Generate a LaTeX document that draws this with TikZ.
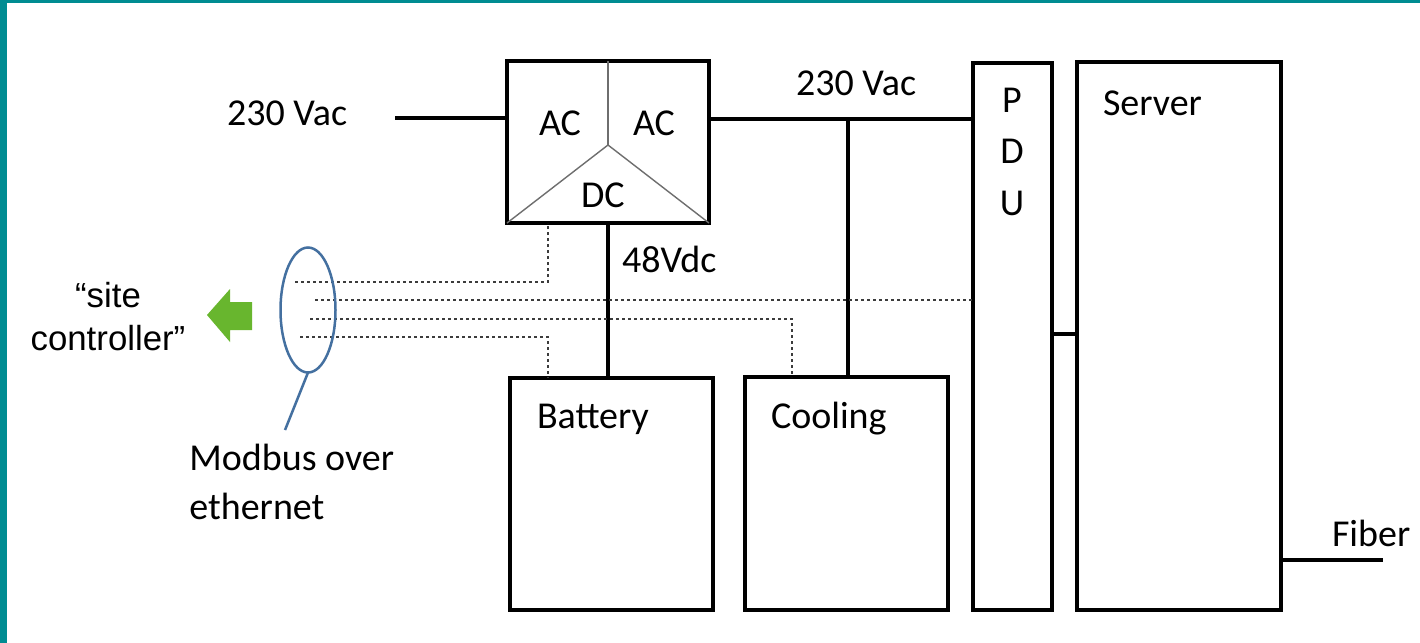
\documentclass[tikz,border=0pt]{standalone}
\usepackage{fontspec}
\setmainfont{Carlito}
\newfontfamily\arialfont{Liberation Sans}
\usetikzlibrary{shapes.geometric}
\definecolor{teal1}{RGB}{0,140,146}
\definecolor{busblue}{RGB}{68,112,160}
\definecolor{arrowgreen}{RGB}{104,182,46}
\definecolor{dashgray}{RGB}{60,60,60}
\definecolor{thingray}{RGB}{110,110,110}
\tikzset{
  box/.style={draw=black, line width=1.8pt, anchor=north west, outer sep=0pt, inner sep=0pt},
  power/.style={draw=black, line width=2pt},
  signal/.style={draw=dashgray, line width=0.75pt, dash pattern=on 1.7pt off 1.3pt},
  split/.style={draw=thingray, line width=0.7pt},
  lbl/.style={inner sep=0pt, outer sep=0pt, font=\fontsize{19}{22}\selectfont, anchor=base west},
}
\begin{document}
\begin{tikzpicture}[x=0.5pt, y=-0.5pt]
\useasboundingbox (0,0) rectangle (1420,643);
\fill[white] (0,0) rectangle (1420,643);
\fill[teal1] (0,0) rectangle (7,643);
\fill[teal1] (0,0) rectangle (1420,3);

% boxes
\node[box, minimum width=101pt, minimum height=81pt] (conv) at (507,61) {};
\node[box, minimum width=101.5pt, minimum height=116pt] (batt) at (510,378) {};
\node[box, minimum width=101.5pt, minimum height=116.5pt] (cool) at (745,377) {};
\node[box, minimum width=39.5pt, minimum height=273.5pt] (pdu) at (973,63) {};
\node[box, minimum width=102pt, minimum height=274pt] (srv) at (1077,62) {};

% converter internal split
\coordinate (mid) at (608,145);
\draw[split] (conv.north) -- (mid);
\draw[split] (conv.south west) -- (mid) -- (conv.south east);

% labels
\node[lbl] (vin) at (227,125) {230 Vac};
\node[lbl] (vout) at (796,95) {230 Vac};
\node[lbl] (ac1) at (539,135) {AC};
\node[lbl] (ac2) at (633,135) {AC};
\node[lbl] (dc) at (581,207) {DC};
\node[lbl, anchor=base] (p) at (1012,112) {P};
\node[lbl, anchor=base] (d) at (1012,163) {D};
\node[lbl, anchor=base] (u) at (1012,215) {U};
\node[lbl] (srvt) at (1103,115) {Server};
\node[lbl] (coolt) at (771,428) {Cooling};
\node[lbl] (battt) at (537,428) {Battery};
\node[lbl] (v48) at (622,272) {48Vdc};
\node[lbl] (fib) at (1332,546) {Fiber};
\node[inner sep=0pt, anchor=west, align=left, font=\fontsize{19}{24.5}\selectfont] (modbus) at (189,482) {Modbus over\\ethernet};
\node[inner sep=0pt, align=center, font=\arialfont\fontsize{17.4}{21.5}\selectfont] (site) at (108,317) {“site\\controller”};

% power connectors
\coordinate (inL) at (395,118);
\draw[power] (inL) -- (inL -| conv.west);
\coordinate (acout) at (709,119);
\draw[power] (acout) -- (acout -| pdu.west);
\coordinate (tap) at (848,119);
\draw[power] (tap) -- (tap |- cool.north);
\draw[power] (conv.south) -- (conv.south |- batt.north);
\coordinate (ps) at (1052,334);
\draw[power] (ps) -- (ps -| srv.west);
\coordinate (fibL) at (1281,560);
\coordinate (fibR) at (1383,560);
\draw[power] (fibL) -- (fibR);

% modbus signal lines
\coordinate (s1) at (295,282);
\coordinate (s1t) at (548,223);
\draw[signal] (s1) -| (s1t);
\coordinate (s2) at (315,300);
\draw[signal] (s2) -- (s2 -| pdu.west);
\coordinate (s3) at (310,319);
\coordinate (s3t) at (792,377);
\draw[signal] (s3) -| (s3t);
\coordinate (s4) at (300,337);
\coordinate (s4t) at (548,378);
\draw[signal] (s4) -| (s4t);

% bus ellipse and pointer
\node[draw=busblue, line width=1.25pt, ellipse, minimum width=27.5pt, minimum height=62.5pt, inner sep=0pt, outer sep=0pt] (bus) at (308,310) {};
\coordinate (ptr) at (285,430);
\draw[busblue, line width=1.25pt] (bus.south) -- (ptr);

% green arrow
\fill[arrowgreen] (207,315) -- (230,289) -- (230,302) -- (252,302) -- (252,330) -- (230,330) -- (230,342) -- cycle;
\end{tikzpicture}
\end{document}
